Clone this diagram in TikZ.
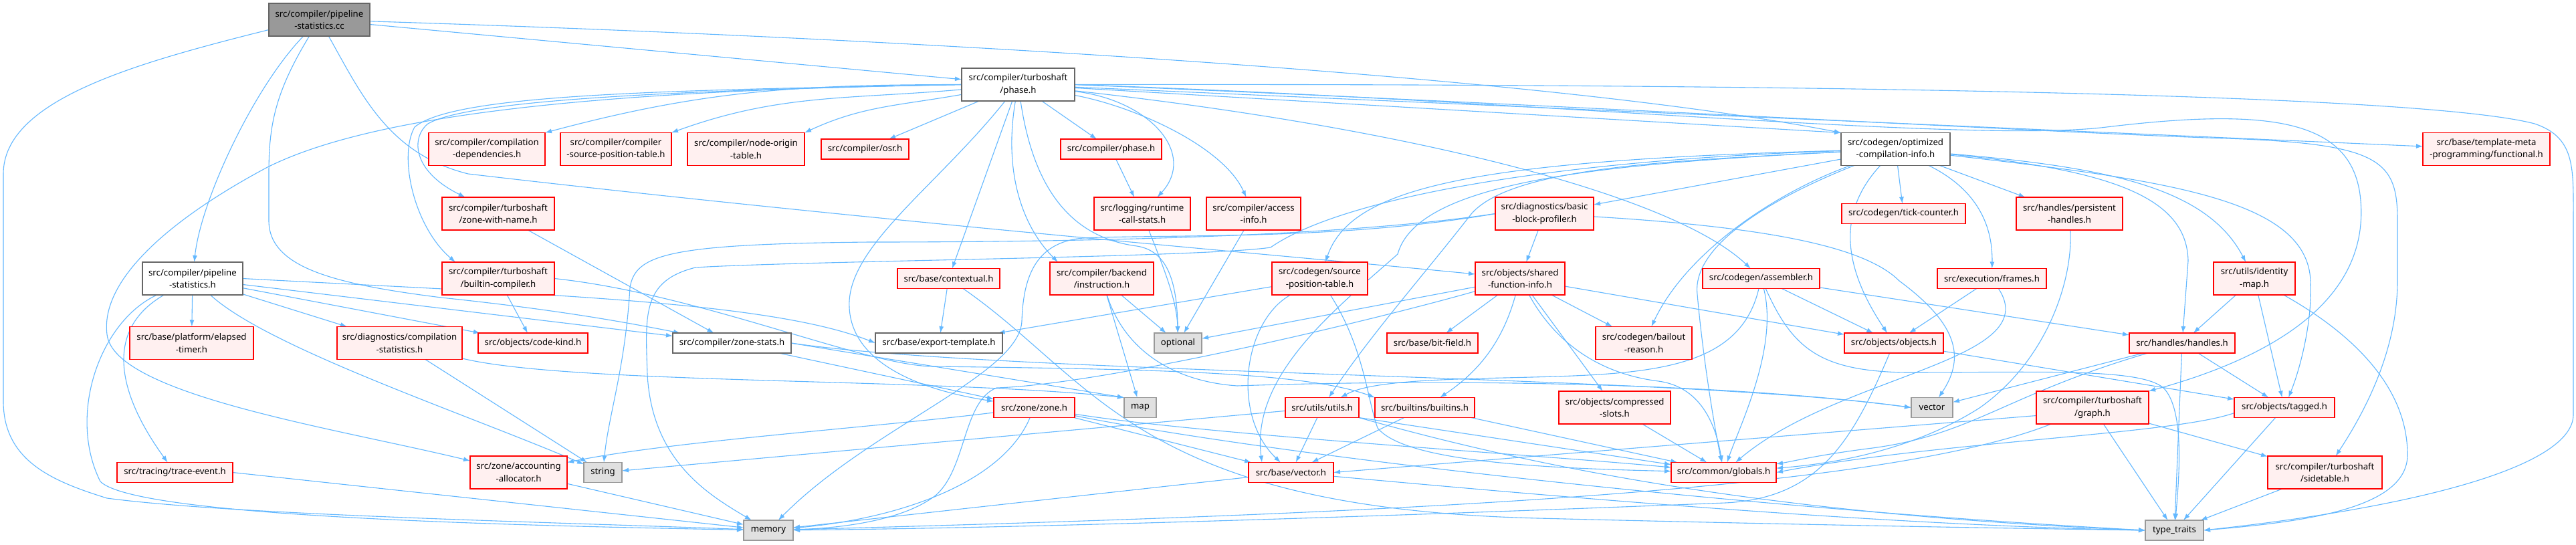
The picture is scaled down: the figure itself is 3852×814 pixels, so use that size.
\documentclass[tikz,border=0pt]{standalone}
\usepackage{fontspec}
\setmainfont{Noto Sans}
\usetikzlibrary{arrows.meta}
\definecolor{eb}{HTML}{63B8FF}
\definecolor{rbd}{HTML}{FF0000}
\definecolor{rbf}{HTML}{FFF0F0}
\definecolor{gbd}{HTML}{999999}
\definecolor{gbf}{HTML}{E0E0E0}
\definecolor{wbd}{HTML}{666666}
\definecolor{rootf}{HTML}{999999}
\pgfdeclarelayer{bg}
\pgfdeclarelayer{paper}
\pgfsetlayers{paper,bg,main}
\tikzset{
  box/.style={rectangle, inner sep=0pt, outer sep=0pt, line width=1.3pt, align=center, font=\fontsize{13.2}{18.6}\selectfont, text=black},
  rbox/.style={box, draw=rbd, fill=rbf},
  gbox/.style={box, draw=gbd, fill=gbf},
  wbox/.style={box, draw=wbd, fill=white},
  rootbox/.style={box, draw=wbd, fill=rootf},
  ed/.style={draw=eb, line width=1.1pt, -{Latex[length=10pt,width=7pt]}}
}
\newcommand\mkn[7]{\node[#1,minimum width=#5pt,minimum height=#6pt] (#2) at (#3,#4) {#7};}
\begin{document}
\begin{tikzpicture}[x=1pt,y=-1pt]
\begin{pgfonlayer}{paper}
\fill[white] (0,0) rectangle (3852,814);
\end{pgfonlayer}
\useasboundingbox (0,0) rectangle (3852,814);
% nodes
\mkn{rootbox}{root}{477.5}{29.5}{151}{49}{src/compiler/pipeline\\-statistics.cc}
\mkn{wbox}{psh}{288}{416.5}{150}{49}{src/compiler/pipeline\\-statistics.h}
\mkn{wbox}{tsphase}{1522.5}{126.5}{169}{49}{src/compiler/turboshaft\\/phase.h}
\mkn{wbox}{optcomp}{2834.5}{223}{163}{49}{src/codegen/optimized\\-compilation-info.h}
\mkn{rbox}{compdeps}{728}{223}{174}{49}{src/compiler/compilation\\-dependencies.h}
\mkn{rbox}{csrcpos}{921}{223}{166}{49}{src/compiler/compiler\\-source-position-table.h}
\mkn{rbox}{nodeorigin}{1115.5}{223}{175}{49}{src/compiler/node-origin\\-table.h}
\mkn{rbox}{osr}{1293.5}{223}{131}{30}{src/compiler/osr.h}
\mkn{rbox}{cphase}{1661.5}{223}{151}{30}{src/compiler/phase.h}
\mkn{rbox}{rcs}{1708}{319.5}{144}{49}{src/logging/runtime\\-call-stats.h}
\mkn{rbox}{access}{1874.5}{319.5}{141}{49}{src/compiler/access\\-info.h}
\mkn{rbox}{functional}{3718}{223}{190}{49}{src/base/template-meta\\-programming/functional.h}
\mkn{rbox}{zonewithname}{745}{319.5}{168}{49}{src/compiler/turboshaft\\/zone-with-name.h}
\mkn{rbox}{builtincomp}{745}{416.5}{168}{49}{src/compiler/turboshaft\\/builtin-compiler.h}
\mkn{rbox}{contextual}{1418.5}{416.5}{153}{30}{src/base/contextual.h}
\mkn{rbox}{backend}{1647.5}{416.5}{155}{49}{src/compiler/backend\\/instruction.h}
\mkn{rbox}{spt}{1973.5}{416.5}{143}{49}{src/codegen/source\\-position-table.h}
\mkn{rbox}{bbp}{2309.5}{319.5}{147}{49}{src/diagnostics/basic\\-block-profiler.h}
\mkn{rbox}{sfi}{2273}{416.5}{134}{49}{src/objects/shared\\-function-info.h}
\mkn{rbox}{assembler}{2633.5}{416.5}{175}{30}{src/codegen/assembler.h}
\mkn{rbox}{tick}{2846.5}{319.5}{185}{30}{src/codegen/tick-counter.h}
\mkn{rbox}{persistent}{3094.5}{319.5}{159}{49}{src/handles/persistent\\-handles.h}
\mkn{rbox}{frames}{2978.5}{416.5}{163}{30}{src/execution/frames.h}
\mkn{rbox}{identity}{3371}{416.5}{122}{49}{src/utils/identity\\-map.h}
\mkn{rbox}{handles}{3263}{513}{158}{30}{src/handles/handles.h}
\mkn{rbox}{tagged}{3416}{609.5}{150}{30}{src/objects/tagged.h}
\mkn{rbox}{sidetable}{3476.5}{706.5}{171}{49}{src/compiler/turboshaft\\/sidetable.h}
\mkn{gbox}{typetraits}{3251.5}{793}{87}{30}{type\_traits}
\mkn{rbox}{objects}{2832}{513}{148}{30}{src/objects/objects.h}
\mkn{gbox}{vector}{2889}{609.5}{62}{30}{vector}
\mkn{rbox}{graph}{3129}{609.5}{168}{49}{src/compiler/turboshaft\\/graph.h}
\mkn{rbox}{globals}{2577.5}{706.5}{157}{30}{src/common/globals.h}
\mkn{rbox}{bitfield}{2142}{513}{136}{30}{src/base/bit-field.h}
\mkn{rbox}{bailout}{2458}{513}{144}{49}{src/codegen/bailout\\-reason.h}
\mkn{rbox}{utils}{1977}{609.5}{110}{30}{src/utils/utils.h}
\mkn{rbox}{builtins}{2130.5}{609.5}{149}{30}{src/builtins/builtins.h}
\mkn{rbox}{compressed}{2414.5}{609.5}{167}{49}{src/objects/compressed\\-slots.h}
\mkn{rbox}{basevector}{1930.5}{706.5}{127}{30}{src/base/vector.h}
\mkn{wbox}{exporttpl}{1404}{513}{190}{30}{src/base/export-template.h}
\mkn{gbox}{optional}{1761.5}{513}{71}{30}{optional}
\mkn{rbox}{zone}{1546.5}{609.5}{121}{30}{src/zone/zone.h}
\mkn{gbox}{map}{1705}{609.5}{48}{30}{map}
\mkn{rbox}{codekind}{797}{513}{164}{30}{src/objects/code-kind.h}
\mkn{wbox}{zonestats}{1094.5}{513}{177}{30}{src/compiler/zone-stats.h}
\mkn{rbox}{accalloc}{775.5}{706.5}{145}{49}{src/zone/accounting\\-allocator.h}
\mkn{gbox}{string}{901.5}{706.5}{57}{30}{string}
\mkn{gbox}{memory}{1149}{793}{74}{30}{memory}
\mkn{rbox}{elapsed}{286.5}{513}{185}{49}{src/base/platform/elapsed\\-timer.h}
\mkn{rbox}{compstats}{597.5}{513}{187}{49}{src/diagnostics/compilation\\-statistics.h}
\mkn{rbox}{trace}{261.5}{706.5}{173}{30}{src/tracing/trace-event.h}
% edges
\begin{pgfonlayer}{bg}
% root
\draw[ed] (root) .. controls (380,130) and (300,300) .. (psh);
\draw[ed] (root) -- (tsphase);
\draw[ed] (root) .. controls (1300,55) and (2300,110) .. (optcomp.north west);
\draw[ed] ([yshift=-15pt]root.west) .. controls (200,95) and (5,150) .. (5,260) -- (5,600) .. controls (5,690) and (80,720) .. (160,745) .. controls (350,770) and (800,780) .. (memory);
\draw[ed] (root) .. controls (410,140) and (402,190) .. (402,260) -- (402,330) .. controls (402,400) and (500,425) .. (660,445) .. controls (850,465) and (950,485) .. (zonestats);
\draw[ed] (root) .. controls (540,140) and (580,230) .. (700,260) .. controls (1300,330) and (1900,380) .. (sfi);
% psh
\draw[ed] (psh) .. controls (150,480) and (100,620) .. (150,720) .. controls (200,770) and (700,785) .. (memory);
\draw[ed] (psh) .. controls (160,490) and (170,580) .. (trace);
\draw[ed] (psh) -- (elapsed);
\draw[ed] (psh) .. controls (400,520) and (700,620) .. (string);
\draw[ed] (psh.east) .. controls (800,440) and (1150,450) .. (exporttpl.west);
\draw[ed] (psh) -- (zonestats);
\draw[ed] (psh) -- (compstats);
\draw[ed] (psh) -- (codekind);
% tsphase
\draw[ed] (tsphase) to[out=180,in=15] (compdeps.north east);
\draw[ed] (tsphase) to[out=185,in=20] (csrcpos.north east);
\draw[ed] (tsphase) to[out=190,in=25] (nodeorigin.north east);
\draw[ed] (tsphase) -- (osr);
\draw[ed] (tsphase) -- (cphase);
\draw[ed] (tsphase) .. controls (1720,150) and (1790,230) .. (rcs);
\draw[ed] (tsphase) .. controls (1700,160) and (1830,220) .. (access);
\draw[ed] (tsphase) -- (functional);
\draw[ed] (tsphase.east) .. controls (2500,125) and (3600,135) .. (3790,185) .. controls (3850,205) and (3848,250) .. (3848,320) -- (3848,620) .. controls (3848,700) and (3600,760) .. (typetraits.east);
\draw[ed] (tsphase.east) .. controls (2300,150) and (2950,215) .. (3150,190) .. controls (3400,160) and (3520,180) .. (3530,300) .. controls (3540,420) and (3450,520) .. (graph.north east);
\draw[ed] (tsphase.east) .. controls (2400,160) and (3100,200) .. (3330,207) .. controls (3560,215) and (3585,240) .. (3585,330) -- (3585,420) .. controls (3585,520) and (3540,610) .. (sidetable);
\draw[ed] (tsphase) .. controls (2100,190) and (2500,290) .. (assembler);
\draw[ed] (tsphase) .. controls (1545,280) and (1600,355) .. (1700,368) .. controls (1745,375) and (1760,420) .. (optional);
\draw[ed] (tsphase) .. controls (1500,260) and (1530,340) .. ([xshift=12pt]backend.north west);
\draw[ed] (tsphase) -- (contextual);
\draw[ed] (tsphase) .. controls (1400,280) and (1265,370) .. (1270,460) .. controls (1275,560) and (1420,590) .. (zone);
\draw[ed] (tsphase) -- (optcomp.north west);
\draw[ed] (tsphase.west) .. controls (1000,135) and (700,150) .. (640,185) .. controls (615,205) and (615,255) .. (zonewithname);
\draw[ed] (tsphase.west) .. controls (1000,135) and (680,140) .. (620,190) .. controls (595,235) and (620,340) .. ([xshift=20pt]builtincomp.north west);
\draw[ed] (tsphase.west) .. controls (900,135) and (560,170) .. (400,250) .. controls (250,330) and (150,420) .. (160,500) .. controls (170,590) and (500,640) .. (accalloc);
% optcomp
\draw[ed] (optcomp) -- (bbp);
\draw[ed] (optcomp) .. controls (2200,240) and (2020,280) .. (spt);
\draw[ed] (optcomp) -- (tick);
\draw[ed] (optcomp) -- (persistent);
\draw[ed] (optcomp) .. controls (2950,280) and (2980,330) .. (frames);
\draw[ed] (optcomp) .. controls (3150,250) and (3300,280) .. (identity);
\draw[ed] (optcomp) .. controls (3170,255) and (3270,300) .. (3272,390) -- (handles);
\draw[ed] (optcomp) .. controls (3250,270) and (3450,300) .. (3455,420) .. controls (3458,480) and (3440,550) .. (tagged);
\draw[ed] (optcomp) .. controls (2735,330) and (2770,420) .. (objects);
\draw[ed] (optcomp) .. controls (2650,290) and (2520,380) .. (bailout);
\draw[ed] (optcomp) .. controls (2500,240) and (2260,250) .. (2200,320) .. controls (2130,410) and (2050,500) .. (utils);
\draw[ed] (optcomp) .. controls (2400,245) and (2120,270) .. (2090,380) .. controls (2000,460) and (1870,560) .. ([xshift=20pt]basevector.north west);
\draw[ed] (optcomp) .. controls (2640,300) and (2530,370) .. (2538,440) .. controls (2545,520) and (2560,620) .. (globals);
\draw[ed] (optcomp) .. controls (2300,240) and (2000,300) .. (1900,370) .. controls (1800,385) and (1200,390) .. (1040,400) .. controls (960,420) and (965,470) .. (968,560) .. controls (975,690) and (1060,740) .. (memory);
% bbp
\draw[ed] (bbp) -- (sfi);
\draw[ed] (bbp.west) .. controls (2000,355) and (1600,362) .. (1300,362) .. controls (1000,365) and (950,380) .. (942,430) .. controls (935,550) and (910,620) .. (string);
\draw[ed] (bbp) .. controls (2650,340) and (2790,370) .. (2840,420) .. controls (2935,490) and (2935,540) .. (vector);
\draw[ed] (bbp.west) .. controls (2000,360) and (1750,350) .. (1620,356) .. controls (1545,362) and (1530,420) .. (1528,480) .. controls (1525,560) and (1300,640) .. (memory);
% sfi
\draw[ed] (sfi) -- (optional);
\draw[ed] (sfi) .. controls (2050,480) and (1650,575) .. (1490,580) .. controls (1440,600) and (1445,700) .. (1400,740) .. controls (1350,780) and (1250,790) .. (memory);
\draw[ed] (sfi) -- (bitfield);
\draw[ed] (sfi) .. controls (2250,500) and (2220,550) .. (builtins);
\draw[ed] (sfi) -- (compressed);
\draw[ed] (sfi) .. controls (2330,520) and (2400,560) .. (2480,570) .. controls (2540,578) and (2565,630) .. (globals);
\draw[ed] (sfi) -- (bailout);
\draw[ed] (sfi) -- (objects);
% spt
\draw[ed] (spt) -- (exporttpl);
\draw[ed] (spt) .. controls (1860,480) and (1840,620) .. (basevector);
\draw[ed] (spt) .. controls (2040,520) and (2045,600) .. (2060,640) .. controls (2100,690) and (2300,700) .. (globals);
% assembler
\draw[ed] (assembler) .. controls (2660,520) and (2600,640) .. (globals);
\draw[ed] (assembler) -- (objects);
\draw[ed] (assembler) -- (handles);
\draw[ed] (assembler) .. controls (2600,560) and (2450,560) .. (2250,565) .. controls (2100,568) and (2040,575) .. (utils);
\draw[ed] (assembler) .. controls (2680,520) and (2720,555) .. (2850,557) .. controls (3050,557) and (3200,550) .. (3235,580) .. controls (3265,610) and (3260,700) .. (typetraits);
% frames, persistent
\draw[ed] (frames) -- (objects);
\draw[ed] (frames) .. controls (3060,540) and (2750,560) .. (globals);
\draw[ed] (persistent) .. controls (3100,420) and (3060,540) .. (2960,610) .. controls (2850,680) and (2720,695) .. (globals);
% handles
\draw[ed] (handles) -- (tagged);
\draw[ed] (handles) -- (typetraits);
\draw[ed] (handles) -- (vector);
\draw[ed] (handles) .. controls (3000,590) and (2950,650) .. (2800,670) .. controls (2720,680) and (2680,690) .. (globals);
% identity
\draw[ed] (identity) -- (handles);
\draw[ed] (identity) -- (tagged);
\draw[ed] (identity) .. controls (3520,500) and (3600,580) .. (3600,680) .. controls (3600,760) and (3450,780) .. (typetraits.east);
% tagged
\draw[ed] ([yshift=-8pt]tagged.west) .. controls (3250,650) and (2900,660) .. (globals.east);
\draw[ed] (tagged) -- (typetraits);
% objects
\draw[ed] (objects) .. controls (2770,660) and (2720,745) .. (2580,752) .. controls (2000,775) and (1500,790) .. (memory);
\draw[ed] (objects) -- (tagged);
% graph
\draw[ed] (graph) -- (sidetable);
\draw[ed] ([yshift=-12pt]graph.west) -- (basevector.east);
\draw[ed] (graph) .. controls (2800,740) and (2000,770) .. (memory);
\draw[ed] (graph) -- (typetraits);
\draw[ed] (sidetable) -- (typetraits);
% utils
\draw[ed] (utils) -- (string);
\draw[ed] (utils) -- (basevector);
\draw[ed] (utils.south east) -- (globals);
\draw[ed] (utils.south east) .. controls (2300,700) and (2650,770) .. (typetraits.west);
% builtins, compressed
\draw[ed] (builtins) -- (basevector);
\draw[ed] (builtins) -- (globals);
\draw[ed] (compressed) -- (globals);
% zone
\draw[ed] (zone) .. controls (1500,720) and (1350,775) .. (memory);
\draw[ed] (zone) .. controls (1900,680) and (2600,760) .. (typetraits.west);
\draw[ed] (zone) -- (basevector);
\draw[ed] (zone) .. controls (1800,650) and (2300,680) .. (globals);
\draw[ed] (zone) .. controls (1300,640) and (1000,660) .. (accalloc);
% zonestats
\draw[ed] (zonestats) -- (zone);
\draw[ed] (zonestats.east) -- (map.north west);
\draw[ed] (zonestats.east) .. controls (1500,560) and (2500,560) .. (vector.west);
% compstats
\draw[ed] (compstats) -- (string);
\draw[ed] (compstats) .. controls (850,575) and (1400,565) .. (map.north west);
% backend
\draw[ed] (backend) -- (optional);
\draw[ed] (backend) -- (map);
\draw[ed] (backend) .. controls (1680,520) and (1750,570) .. (1850,577) .. controls (2200,565) and (2600,575) .. (vector.west);
% contextual
\draw[ed] (contextual) -- (exporttpl);
\draw[ed] (contextual) .. controls (1640,570) and (1700,760) .. (2300,775) .. controls (2700,785) and (3000,790) .. (typetraits.west);
% small ones
\draw[ed] (rcs) .. controls (1740,400) and (1760,450) .. (optional);
\draw[ed] (access) -- (optional);
\draw[ed] (cphase) -- (rcs);
\draw[ed] (zonewithname) -- (zonestats);
\draw[ed] (builtincomp) -- (codekind);
\draw[ed] (builtincomp.east) .. controls (1050,440) and (1300,550) .. (1400,548) .. controls (1700,552) and (1950,555) .. (builtins.north west);
\draw[ed] (accalloc) -- (memory);
\draw[ed] (trace.east) -- (memory);
\draw[ed] (basevector) -- (memory);
\draw[ed] (basevector) .. controls (2300,740) and (2800,785) .. (typetraits.west);
\end{pgfonlayer}
\end{tikzpicture}
\end{document}
